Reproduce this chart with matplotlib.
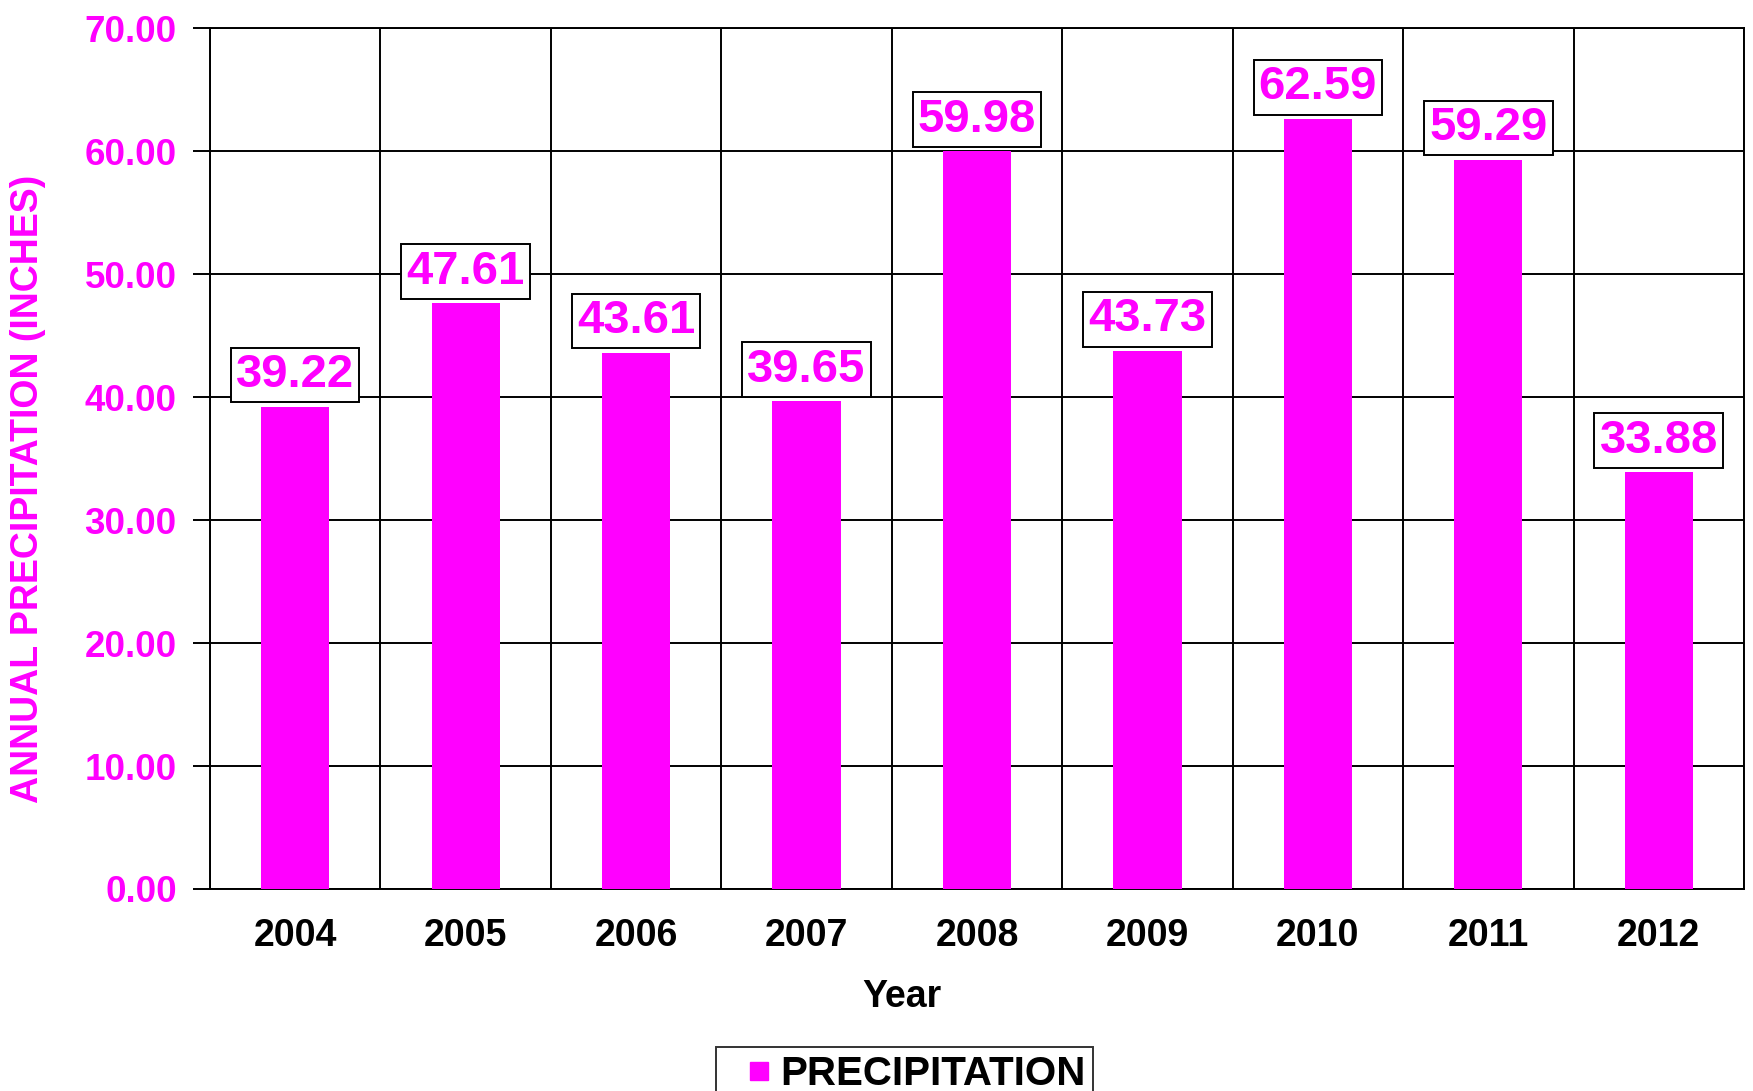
import numpy as np
import matplotlib.pyplot as plt
from matplotlib.lines import Line2D

# datos
years = ['2004', '2005', '2006', '2007', '2008', '2009', '2010', '2011', '2012']
precip = [39.22, 47.61, 43.61, 39.65, 59.98, 43.73, 62.59, 59.29, 33.88]
yticks = [0, 10, 20, 30, 40, 50, 60, 70]

magenta = '#FF00FF'
plt.rcParams['font.family'] = ['Liberation Sans', 'DejaVu Sans']

fig = plt.figure(figsize=(17.53, 10.91), dpi=100)
ax = fig.add_axes([210 / 1753, 1 - 889 / 1091, (1744 - 210) / 1753, (889 - 28) / 1091])

x = np.arange(len(years))
ax.bar(x, precip, width=0.4, color=magenta, zorder=3)

# etiquetas de valores con recuadro
for xi, v in zip(x, precip):
    ax.annotate(f'{v:.2f}', (xi, v), xytext=(0, 7), textcoords='offset points',
                ha='center', va='bottom', fontsize=34, fontweight='bold', color=magenta,
                bbox=dict(boxstyle='square,pad=0.11', fc='white', ec='black', lw=1.4),
                zorder=4)

ax.set_xlim(-0.5, len(years) - 0.5)
ax.set_ylim(0, 70)
ax.set_yticks(yticks)
ax.set_yticklabels([f'{t:.2f}' for t in yticks], color=magenta, fontsize=26.5, fontweight='bold')
ax.set_xticks(x)
ax.set_xticklabels(years, fontsize=27, fontweight='bold')
ax.set_xticks(np.arange(-0.5, len(years), 1), minor=True)
ax.tick_params(axis='x', which='both', length=0, pad=21)
ax.tick_params(axis='y', length=12, width=1.4, pad=12)

ax.grid(axis='y', color='black', lw=1.4, zorder=1)
ax.grid(axis='x', which='minor', color='black', lw=1.4, zorder=1)
for s in ax.spines.values():
    s.set_color('black')
    s.set_linewidth(1.4)

ax.set_xlabel('Year', fontsize=27, fontweight='bold')
ax.xaxis.set_label_coords(0.451, -0.105)
ax.set_ylabel('ANNUAL PRECIPITATION (INCHES)', fontsize=27, fontweight='bold', color=magenta)
ax.yaxis.set_label_coords(-0.107, 0.465)

# leyenda
handle = Line2D([], [], ls='', marker='s', markersize=13, color=magenta)
leg = fig.legend(handles=[handle], labels=['PRECIPITATION'], loc='upper left',
                 bbox_to_anchor=(716 / 1753, 1 - 1047 / 1091),
                 prop={'weight': 'bold', 'size': 29}, frameon=True, fancybox=False,
                 edgecolor='black', handlelength=1.72, handletextpad=-0.33,
                 borderpad=0.2, borderaxespad=0)
leg.get_frame().set_linewidth(1.4)

fig.savefig('out.png', dpi=100)
